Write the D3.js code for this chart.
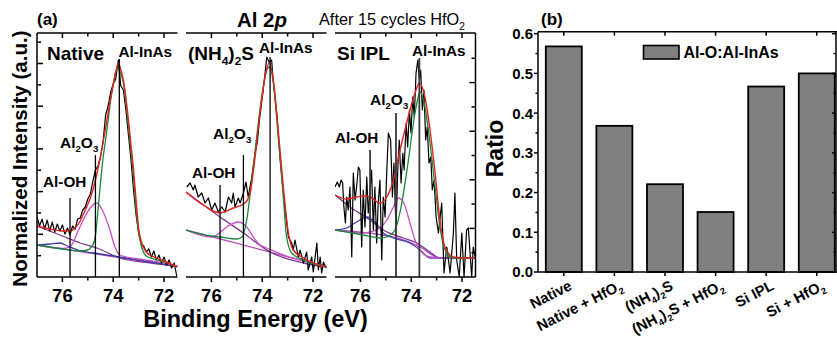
<!DOCTYPE html>
<html><head><meta charset="utf-8">
<script src="https://cdn.jsdelivr.net/npm/d3@7"></script>
<style>body{margin:0;background:#fff}svg{display:block}text{font-family:"Liberation Sans",Arial,Helvetica,sans-serif}</style>
</head><body><svg id="c" width="837" height="344"></svg>
<script>
// ---------------- DATA: panel (a) XPS Al 2p, [binding energy eV, intensity a.u.] ----------------
const nativeData = [[77.0,0.60],[76.9,0.51],[76.8,0.58],[76.7,0.48],[76.6,0.57],[76.5,0.46],[76.4,0.55],[76.3,0.45],[76.2,0.53],[76.1,0.46],[76.0,0.52],[75.9,0.43],[75.8,0.49],[75.7,0.42],[75.6,0.51],[75.5,0.48],[75.4,0.58],[75.3,0.59],[75.2,0.67],[75.1,0.70],[75.0,0.78],[74.9,0.83],[74.8,0.96],[74.7,1.07],[74.6,1.11],[74.5,1.20],[74.4,1.35],[74.3,1.62],[74.2,1.71],[74.1,1.85],[74.0,1.93],[73.9,1.98],[73.8,2.17],[73.7,1.91],[73.6,1.87],[73.5,1.67],[73.4,1.42],[73.3,1.17],[73.2,0.87],[73.1,0.62],[73.0,0.44],[72.9,0.33],[72.8,0.31],[72.7,0.25],[72.6,0.28],[72.5,0.20],[72.4,0.26],[72.3,0.17],[72.2,0.22],[72.1,0.14],[72.0,0.20],[71.9,0.12],[71.8,0.17],[71.7,0.09],[71.6,0.14],[71.5,0.01]];
const nativeFit = [[77.0,0.51],[76.5,0.48],[76.0,0.46],[75.7,0.46],[75.5,0.49],[75.3,0.56],[75.1,0.67],[74.9,0.79],[74.7,0.97],[74.5,1.21],[74.3,1.49],[74.1,1.79],[73.9,2.05],[73.8,2.14],[73.7,2.07],[73.6,1.97],[73.5,1.79],[73.4,1.57],[73.3,1.32],[73.2,1.07],[73.1,0.77],[73.0,0.49],[72.9,0.36],[72.7,0.25],[72.4,0.20],[72.0,0.16],[71.47,0.10]];
const nativeInAs = [[77.0,0.32],[76.0,0.28],[75.3,0.26],[75.0,0.27],[74.9,0.29],[74.8,0.32],[74.7,0.41],[74.6,0.67],[74.5,0.94],[74.4,1.19],[74.3,1.37],[74.2,1.57],[74.1,1.77],[74.0,1.92],[73.9,2.05],[73.8,2.09],[73.7,2.03],[73.6,1.94],[73.5,1.74],[73.4,1.50],[73.3,1.25],[73.2,1.00],[73.1,0.67],[73.0,0.45],[72.9,0.32],[72.7,0.21],[72.4,0.18],[72.0,0.15],[71.47,0.10]];
const nativeOxide = [[77.0,0.32],[76.0,0.285],[75.7,0.30],[75.57,0.35],[75.4,0.45],[75.18,0.57],[74.91,0.69],[74.65,0.74],[74.39,0.65],[74.13,0.47],[73.93,0.30],[73.73,0.22],[73.0,0.18],[72.0,0.14],[71.47,0.105]];
const nativeOH = [[77.0,0.32],[76.5,0.33],[76.1,0.34],[75.8,0.31],[75.4,0.27],[74.5,0.23],[73.5,0.19],[72.5,0.15],[71.47,0.105]];
const nativeBg = [[77.0,0.51],[76.0,0.41],[75.3,0.34],[74.65,0.29],[73.73,0.19],[72.5,0.14],[71.47,0.11]];
const nativeLow = [[77.0,0.32],[71.47,0.105]];
const nativePeakBE = [75.7, 74.7, 73.76];
const nativePeakTop = [0.79, 1.22, 2.18];

const sulfData = [[76.97,0.90],[76.84,0.94],[76.71,0.87],[76.65,0.92],[76.52,0.80],[76.38,0.84],[76.25,0.74],[76.12,0.79],[75.99,0.67],[75.86,0.74],[75.73,0.65],[75.59,0.70],[75.46,0.65],[75.33,0.80],[75.20,0.74],[75.14,0.84],[75.07,0.70],[74.94,0.79],[74.87,0.74],[74.74,0.84],[74.64,0.95],[74.55,0.80],[74.41,1.00],[74.28,1.24],[74.19,1.35],[74.11,1.57],[73.96,1.87],[73.82,2.20],[73.73,2.15],[73.63,2.17],[73.56,1.94],[73.43,1.64],[73.30,1.20],[73.10,0.67],[72.97,0.40],[72.84,0.34],[72.78,0.27],[72.71,0.37],[72.58,0.20],[72.51,0.27],[72.38,0.14],[72.25,0.25],[72.19,0.07],[72.05,0.20],[71.99,0.05],[71.85,0.34],[71.79,0.07],[71.72,0.20],[71.66,0.04],[71.59,0.15],[71.49,0.09]];
const sulfFit = [[77.0,0.85],[76.32,0.72],[75.66,0.64],[75.14,0.69],[74.68,0.74],[74.48,0.84],[74.28,1.20],[74.09,1.64],[73.89,2.00],[73.73,2.14],[73.56,1.97],[73.37,1.47],[73.17,0.90],[72.97,0.44],[72.78,0.27],[72.38,0.19],[71.46,0.10]];
const sulfInAs = [[77.0,0.47],[76.0,0.41],[75.66,0.40],[75.0,0.38],[74.8,0.40],[74.61,0.57],[74.41,0.97],[74.22,1.40],[74.02,1.80],[73.82,2.07],[73.73,2.10],[73.56,1.94],[73.37,1.40],[73.17,0.80],[73.04,0.40],[72.84,0.24],[72.38,0.17],[71.46,0.10]];
const sulfOxide = [[77.0,0.47],[76.0,0.40],[75.79,0.42],[75.4,0.50],[74.94,0.55],[74.61,0.50],[74.35,0.40],[74.09,0.32],[73.82,0.29],[73.0,0.205],[72.0,0.14],[71.46,0.10]];
const sulfOH = null;
const sulfBg = [[77.0,0.85],[75.66,0.60],[74.74,0.44],[73.69,0.25],[72.38,0.14],[71.46,0.10]];
const sulfLow = [[77.0,0.47],[71.46,0.10]];
const sulfPeakBE = [75.66, 74.74, 73.69];
const sulfPeakTop = [0.92, 1.22, 2.20];

const siData = [[77.00,0.90],[76.91,0.95],[76.83,0.90],[76.76,0.97],[76.70,0.94],[76.65,0.70],[76.59,0.54],[76.54,0.80],[76.48,0.67],[76.41,0.90],[76.34,0.20],[76.28,1.04],[76.21,0.77],[76.15,0.90],[76.08,1.10],[76.02,1.07],[75.95,0.30],[75.89,0.87],[75.82,0.50],[75.75,1.00],[75.69,0.64],[75.62,0.87],[75.56,1.07],[75.49,0.47],[75.43,0.90],[75.36,0.34],[75.30,0.74],[75.23,0.97],[75.16,0.17],[75.10,0.80],[75.03,0.60],[74.96,1.07],[74.90,1.44],[74.81,1.37],[74.74,0.80],[74.68,1.14],[74.60,0.47],[74.53,1.07],[74.47,1.37],[74.40,0.94],[74.33,1.24],[74.28,1.07],[74.20,1.54],[74.14,1.30],[74.07,1.67],[74.01,1.44],[73.94,1.80],[73.88,1.60],[73.81,2.04],[73.74,2.17],[73.68,1.97],[73.63,2.07],[73.56,1.67],[73.50,1.87],[73.43,1.37],[73.37,1.50],[73.30,1.14],[73.23,1.20],[73.17,0.87],[73.10,0.97],[73.02,0.60],[72.93,0.44],[72.80,0.74],[72.71,0.04],[72.60,0.30],[72.47,0.04],[72.34,0.44],[72.28,0.84],[72.21,0.17],[72.11,0.00],[72.01,0.44],[71.92,0.00],[71.82,0.47],[71.75,0.49],[71.62,0.00],[71.56,0.30],[71.46,0.17]];
const siFit = [[77.0,0.82],[76.54,0.78],[75.89,0.81],[75.62,0.80],[75.23,0.74],[74.96,0.80],[74.70,0.97],[74.44,1.27],[74.18,1.54],[73.85,1.84],[73.68,1.94],[73.46,1.80],[73.26,1.47],[73.06,1.04],[72.87,0.57],[72.67,0.30],[72.34,0.20],[71.95,0.19],[71.42,0.19]];
const siInAs = [[77.0,0.47],[75.89,0.42],[75.23,0.39],[74.96,0.40],[74.64,0.47],[74.37,0.74],[74.11,1.17],[73.85,1.64],[73.65,1.85],[73.46,1.70],[73.26,1.34],[73.06,0.90],[72.87,0.50],[72.67,0.27],[72.34,0.19],[71.42,0.19]];
const siOxide = [[77.0,0.47],[75.89,0.44],[75.62,0.45],[75.23,0.49],[74.96,0.57],[74.70,0.70],[74.51,0.79],[74.31,0.75],[74.05,0.54],[73.85,0.37],[73.65,0.27],[73.26,0.20],[72.5,0.19],[71.42,0.19]];
const siOH = [[77.0,0.47],[76.54,0.49],[76.15,0.55],[75.75,0.60],[75.43,0.55],[75.10,0.44],[74.70,0.39],[74.05,0.34],[73.65,0.27],[73.26,0.19],[71.42,0.19]];
const siBg = [[77.0,0.82],[76.41,0.70],[75.62,0.57],[75.10,0.47],[74.31,0.39],[73.78,0.34],[73.26,0.25],[72.87,0.19],[71.42,0.19]];
const siLow = [[77.0,0.47],[74.57,0.39],[73.65,0.30],[72.87,0.19],[71.42,0.19]];
const siPeakBE = [75.62, 74.60, 73.68];
const siPeakTop = [1.27, 1.64, 2.19];

const energyTicksMajor = [76, 74, 72];
const energyTicksMinor = [75, 73];
const energyDomain = [77, 71.47];
const intensityDomain = [0, 2.44];

// ---------------- DATA: panel (b) ----------------
const ratioCategories = ["Native", "Native + HfO_2", "(NH_4)_2S", "(NH_4)_2S + HfO_2", "Si IPL", "Si + HfO_2"];
const ratioValues = [0.568, 0.368, 0.221, 0.151, 0.467, 0.500];
const ratioTicks = [0.0, 0.1, 0.2, 0.3, 0.4, 0.5, 0.6];
const ratioMinorTicks = [0.05, 0.15, 0.25, 0.35, 0.45, 0.55];
const legendLabel = "Al-O:Al-InAs";

// ---------------- DRAWING ----------------
const svg = d3.select('#c');
const C = {red:'#e3221c', green:'#138a3a', mag:'#c94fc6', purple:'#7d3594', blue:'#3b3eaa', low:'#b44cb8'};

function rich(t, str, size){
  let shifted = false;
  str.split(/(_\w)/).filter(s=>s.length).forEach(p=>{
    const sub = p[0]==='_';
    const ts = t.append('tspan').text(sub ? p.slice(1) : p);
    if(sub){ ts.attr('font-size', size*0.62); if(!shifted){ts.attr('dy', size*0.28); shifted=true;} }
    else { ts.attr('font-size', size); if(shifted){ ts.attr('dy', -size*0.28); shifted=false; } }
  });
  return t;
}
function label(x, y, str, size, weight){
  const t = svg.append('text').attr('x', x).attr('y', y).attr('font-weight', weight||'bold').attr('fill','#000');
  return rich(t, str, size);
}

const yI = d3.scaleLinear().domain(intensityDomain).range([277, 33]);
const panels = [
  {x0:37, title:'Native', tx:47, data:nativeData, fit:nativeFit, inas:nativeInAs, ox:nativeOxide, oh:nativeOH, bg:nativeBg, low:nativeLow, pbe:nativePeakBE, ptop:nativePeakTop, lineColor:'#000', lineW:1.3,
   lab:{inas:[118.5,57], ox:[60,148], oh:[43,187]}},
  {x0:186, title:'(NH_4)_2S', tx:188, data:sulfData, fit:sulfFit, inas:sulfInAs, ox:sulfOxide, oh:sulfOH, bg:sulfBg, low:sulfLow, pbe:sulfPeakBE, ptop:sulfPeakTop, lineColor:'#000', lineW:1.3,
   lab:{inas:[259,53], ox:[213,139], oh:[192,178]}},
  {x0:335, title:'Si IPL', tx:337, data:siData, fit:siFit, inas:siInAs, ox:siOxide, oh:siOH, bg:siBg, low:siLow, pbe:siPeakBE, ptop:siPeakTop, lineColor:'#3a3a3a', lineW:1.8,
   lab:{inas:[412,56], ox:[370,105], oh:[335,143]}}
];
const PW = 140.5;
const defs = svg.append('defs');
panels.forEach((p,i)=>{
  const x = d3.scaleLinear().domain(energyDomain).range([p.x0, p.x0+PW]);
  defs.append('clipPath').attr('id','clip'+i).append('rect').attr('x',p.x0).attr('y',33).attr('width',PW).attr('height',244);
  const g = svg.append('g').attr('clip-path', `url(#clip${i})`);
  const smooth = d3.line().x(d=>x(d[0])).y(d=>yI(d[1])).curve(d3.curveMonotoneX);
  const raw = d3.line().x(d=>x(d[0])).y(d=>yI(d[1]));
  const draw = (arr, col, w, gen) => { if(arr) g.append('path').attr('d', (gen||smooth)(arr)).attr('fill','none').attr('stroke',col).attr('stroke-width',w).attr('stroke-linejoin','round'); };
  draw(p.low, C.low, 1.3);
  draw(p.bg, C.purple, 1.3);
  draw(p.oh, C.blue, 1.3);
  draw(p.ox, C.mag, 1.3);
  draw(p.data, '#000', 1.2, raw);
  draw(p.inas, C.green, 1.3);
  draw(p.fit, C.red, 1.4);
  // peak markers
  g.selectAll('line.pk').data(p.pbe).enter().append('line')
    .attr('x1', d=>x(d)).attr('x2', d=>x(d)).attr('y1', (d,j)=>yI(p.ptop[j])).attr('y2', yI(0))
    .attr('stroke', p.lineColor).attr('stroke-width', p.lineW);
  // axes top / bottom
  const ax = svg.append('g').attr('stroke','#000').attr('stroke-width',1.5);
  ax.append('line').attr('x1',p.x0).attr('x2',p.x0+PW).attr('y1',277).attr('y2',277);
  ax.append('line').attr('x1',p.x0).attr('x2',p.x0+PW).attr('y1',33).attr('y2',33);
  energyTicksMajor.forEach(v=>{
    ax.append('line').attr('x1',x(v)).attr('x2',x(v)).attr('y1',277).attr('y2',282);
    ax.append('line').attr('x1',x(v)).attr('x2',x(v)).attr('y1',33).attr('y2',38);
    svg.append('text').attr('x',x(v)).attr('y',301.5).attr('text-anchor','middle').attr('font-size',18.5).attr('font-weight','bold').text(v);
  });
  energyTicksMinor.forEach(v=>{
    ax.append('line').attr('x1',x(v)).attr('x2',x(v)).attr('y1',277).attr('y2',280.5);
    ax.append('line').attr('x1',x(v)).attr('x2',x(v)).attr('y1',33).attr('y2',36.5);
  });
  label(p.tx, 60, p.title, 19);
  label(p.lab.inas[0], p.lab.inas[1], 'Al-InAs', 15.3);
  label(p.lab.ox[0], p.lab.ox[1], 'Al_2O_3', 15.5);
  label(p.lab.oh[0], p.lab.oh[1], 'Al-OH', 15.3);
});
// left axis of first panel, right axis of third panel
{
  const ax = svg.append('g').attr('stroke','#000').attr('stroke-width',1.5);
  ax.append('line').attr('x1',37).attr('x2',37).attr('y1',33).attr('y2',277);
  d3.range(1,12).forEach(k=>{ const v=k*0.2135; if(v<2.42) ax.append('line').attr('x1',37).attr('x2',37+(k%2?4:6)).attr('y1',yI(v)).attr('y2',yI(v)); });
  const xr = 335+PW;
  ax.append('line').attr('x1',xr).attr('x2',xr).attr('y1',33).attr('y2',277);
  d3.range(1,10).forEach(k=>{ const v=k*0.243; ax.append('line').attr('x1',xr).attr('x2',xr-(k%2?4:6)).attr('y1',yI(v)).attr('y2',yI(v)); });
}
// titles panel (a)
svg.append('text').attr('x',37).attr('y',25).attr('font-size',17).attr('font-weight','bold').text('(a)');
{
  const t = svg.append('text').attr('x',262).attr('y',27).attr('text-anchor','middle').attr('font-size',20.5).attr('font-weight','bold');
  t.append('tspan').text('Al 2');
  t.append('tspan').attr('font-style','italic').text('p');
}
label(319, 25, 'After 15 cycles HfO_2', 16.3, 'normal');
svg.append('text').attr('transform','translate(27,158.5) rotate(-90)').attr('text-anchor','middle').attr('font-size',20.6).attr('font-weight','bold').text('Normalized Intensity (a.u.)');
svg.append('text').attr('x',255.5).attr('y',326.5).attr('text-anchor','middle').attr('font-size',23.5).attr('font-weight','bold').text('Binding Energy (eV)');

// ---------------- panel (b) ----------------
const xB = d3.scaleLinear().domain([-0.51, 5.4]).range([538, 837]);
const yB = d3.scaleLinear().domain([0, 0.6]).range([272, 33.7]);
const bw = 36;
const gb = svg.append('g');
gb.selectAll('rect.bar').data(ratioValues).enter().append('rect')
  .attr('x',(d,i)=>xB(i)-bw/2).attr('y',d=>yB(d)).attr('width',bw).attr('height',d=>yB(0)-yB(d))
  .attr('fill','#808080').attr('stroke','#000').attr('stroke-width',1.8);
{
  const ax = svg.append('g').attr('stroke','#000').attr('stroke-width',1.5);
  const top = yB(0.605);
  ax.append('line').attr('x1',538).attr('x2',837).attr('y1',yB(0)).attr('y2',yB(0));
  ax.append('line').attr('x1',538).attr('x2',837).attr('y1',top).attr('y2',top);
  ax.append('line').attr('x1',538).attr('x2',538).attr('y1',top).attr('y2',yB(0));
  ax.append('line').attr('x1',836).attr('x2',836).attr('y1',top).attr('y2',yB(0));
  ratioTicks.forEach(v=>{
    ax.append('line').attr('x1',538).attr('x2',534).attr('y1',yB(v)).attr('y2',yB(v));
    ax.append('line').attr('x1',836).attr('x2',832).attr('y1',yB(v)).attr('y2',yB(v));
    svg.append('text').attr('x',533).attr('y',yB(v)+5.4).attr('text-anchor','end').attr('font-size',15).attr('font-weight','bold').text(d3.format('.1f')(v));
  });
  ratioMinorTicks.forEach(v=>{
    ax.append('line').attr('x1',538).attr('x2',535.5).attr('y1',yB(v)).attr('y2',yB(v));
    ax.append('line').attr('x1',836).attr('x2',833.5).attr('y1',yB(v)).attr('y2',yB(v));
  });
  ratioCategories.forEach((c,i)=>{
    ax.append('line').attr('x1',xB(i)).attr('x2',xB(i)).attr('y1',yB(0)).attr('y2',yB(0)+4);
    ax.append('line').attr('x1',xB(i)).attr('x2',xB(i)).attr('y1',top).attr('y2',top+4);
    const t = svg.append('text').attr('transform',`translate(${xB(i)+9},289) rotate(-27)`).attr('text-anchor','end').attr('font-weight','bold');
    rich(t, c, 14.8);
  });
}
svg.append('rect').attr('x',643.5).attr('y',45.5).attr('width',35.5).attr('height',13.5).attr('fill','#808080').attr('stroke','#000').attr('stroke-width',1.6);
svg.append('text').attr('x',683.5).attr('y',58).attr('font-size',16).attr('font-weight','bold').text(legendLabel);
svg.append('text').attr('x',541).attr('y',25).attr('font-size',17).attr('font-weight','bold').text('(b)');
svg.append('text').attr('transform','translate(503,148.5) rotate(-90)').attr('text-anchor','middle').attr('font-size',23).attr('font-weight','bold').text('Ratio');
</script></body></html>
